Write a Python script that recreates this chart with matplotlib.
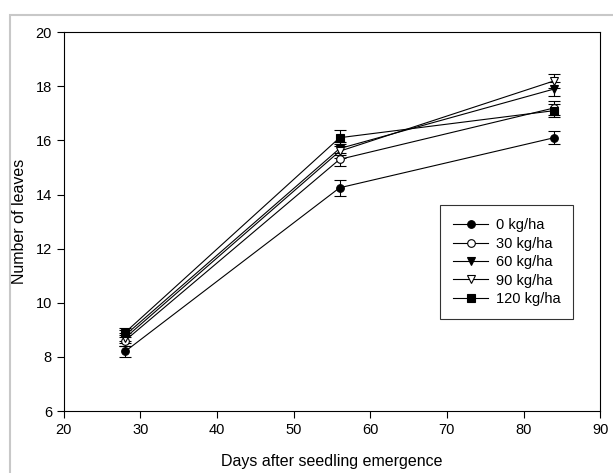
import matplotlib
matplotlib.use('Agg')
import matplotlib.pyplot as plt
from matplotlib.patches import Rectangle
from matplotlib.lines import Line2D

plt.rcParams['font.family'] = ['Liberation Sans', 'DejaVu Sans']

# data
days = [28, 56, 84]
labels = ['0 kg/ha', '30 kg/ha', '60 kg/ha', '90 kg/ha', '120 kg/ha']
leaves_0 = [8.2, 14.25, 16.1]
leaves_30 = [8.6, 15.3, 17.2]
leaves_60 = [8.8, 15.7, 17.9]
leaves_90 = [8.7, 15.6, 18.2]
leaves_120 = [8.9, 16.1, 17.1]
err_0 = [0.2, 0.3, 0.25]
err_30 = [0.2, 0.25, 0.25]
err_60 = [0.2, 0.25, 0.25]
err_90 = [0.2, 0.25, 0.25]
err_120 = [0.15, 0.3, 0.25]

series = [leaves_0, leaves_30, leaves_60, leaves_90, leaves_120]
errors = [err_0, err_30, err_60, err_90, err_120]
markers = ['o', 'o', 'v', 'v', 's']
faces = ['black', 'white', 'black', 'white', 'black']

fig = plt.figure(figsize=(6.13, 4.73), dpi=100)
ax = fig.add_axes([0.104, 0.131, 0.875, 0.801])

# grey frame around the figure, cut off at right and bottom
fig.patches.append(Rectangle((10/613, -0.1), 1.2, 1.1 - 15/473,
                             transform=fig.transFigure, fill=False,
                             edgecolor='#c8c8c8', linewidth=1.5))

handles = []
for y, e, m, fc, lab in zip(series, errors, markers, faces, labels):
    ax.errorbar(days, y, yerr=e, color='black', linewidth=0.8,
                marker=m, markersize=5.5, markerfacecolor=fc,
                markeredgecolor='black', markeredgewidth=0.8,
                ecolor='black', elinewidth=0.8, capsize=4, capthick=0.8)
    handles.append(Line2D([], [], color='black', linewidth=0.8, marker=m,
                          markersize=5.5, markerfacecolor=fc,
                          markeredgecolor='black', markeredgewidth=0.8))

ax.set_xlim(20, 90)
ax.set_ylim(6, 20)
ax.set_xticks(range(20, 91, 10))
ax.set_yticks(range(6, 21, 2))
ax.tick_params(direction='out', length=5, width=0.8, labelsize=10.5,
               top=False, right=False)
for s in ax.spines.values():
    s.set_linewidth(0.8)

ax.set_xlabel('Days after seedling emergence', fontsize=11.5, labelpad=12)
ax.set_ylabel('Number of leaves', fontsize=11.5, labelpad=6)

leg = ax.legend(handles, labels, loc='upper left',
                bbox_to_anchor=(433/613, 1 - 198/473),
                bbox_transform=fig.transFigure, fontsize=10.5,
                frameon=True, fancybox=False, edgecolor='black',
                handlelength=2.4, handletextpad=0.5,
                labelspacing=0.3, borderpad=0.9)
leg.get_frame().set_linewidth(0.8)

fig.savefig('out.png', dpi=100)
